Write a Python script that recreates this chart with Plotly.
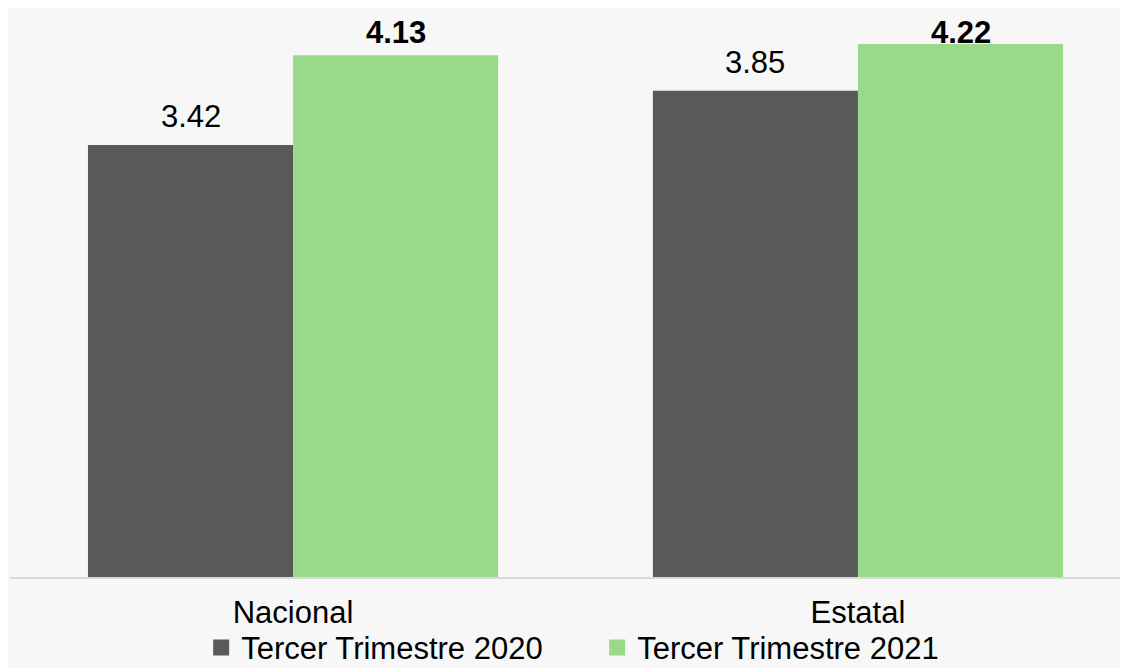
import plotly.graph_objects as go

# ── Data ────────────────────────────────────────────────────────────────────
categories = ["Nacional", "Estatal"]
series_names = ["Tercer Trimestre 2020", "Tercer Trimestre 2021"]
values_2020 = [3.42, 3.85]
values_2021 = [4.13, 4.22]

GRAY = "#595959"
GREEN = "#9BD98A"
FONT = "Liberation Sans, Arial, sans-serif"
Y_MAX = 4.41
LABEL_PAD = 0.226      # label centre above bar top (data units)
LABEL_CEIL = 4.31      # labels never go above this

fig = go.Figure()
for name, vals, color in [(series_names[0], values_2020, GRAY),
                          (series_names[1], values_2021, GREEN)]:
    fig.add_trace(go.Bar(name=name, x=categories, y=vals, showlegend=False,
                         marker=dict(color=color, line=dict(width=0))))
    # legend-only twin with a larger square swatch
    fig.add_trace(go.Scatter(name=name, x=[None], y=[None], mode="markers",
                             marker=dict(symbol="square", size=16, color=color)))

# value labels: 2020 regular, 2021 bold
half = 0.1815
for i in range(len(categories)):
    fig.add_annotation(x=i - half, y=min(values_2020[i] + LABEL_PAD, LABEL_CEIL),
                       text=f"{values_2020[i]:.2f}", showarrow=False, yanchor="middle",
                       font=dict(size=31, color="#000000", family=FONT))
    fig.add_annotation(x=i + half, y=min(values_2021[i] + LABEL_PAD, LABEL_CEIL),
                       text=f"<b>{values_2021[i]:.2f}</b>", showarrow=False, yanchor="middle",
                       font=dict(size=31, color="#000000", family=FONT))

fig.update_layout(
    width=1120, height=660,
    paper_bgcolor="#f7f7f7", plot_bgcolor="rgba(0,0,0,0)",
    margin=dict(l=2, r=0, t=12, b=91, autoexpand=False),
    barmode="group", bargap=0.274, bargroupgap=0,
    font=dict(family=FONT, size=31, color="#000000"),
    showlegend=True,
    legend=dict(orientation="h", x=0.171, xanchor="left", y=-0.127, yanchor="middle",
                font=dict(size=31, color="#000000"), bgcolor="rgba(0,0,0,0)",
                itemwidth=30, entrywidthmode="pixels", entrywidth=351),
    xaxis=dict(range=[-0.501, 1.478], showline=True, linecolor="#d9d9d9", linewidth=2,
               ticks="", showgrid=False, zeroline=False, ticklabelstandoff=7,
               tickfont=dict(size=31, color="#000000")),
    yaxis=dict(range=[0, Y_MAX], visible=False, showgrid=False, zeroline=False),
)

fig.write_html("out.html")
